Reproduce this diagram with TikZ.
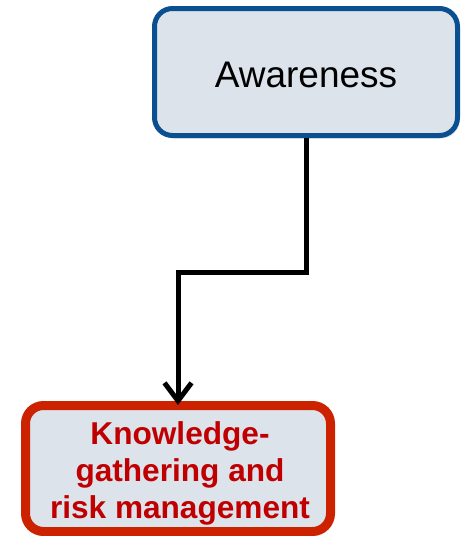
\documentclass[tikz,border=0pt]{standalone}
\usepackage{fontspec}
\setmainfont{Liberation Sans}
\usetikzlibrary{arrows.meta,shadows}
\definecolor{boxfill}{HTML}{DCE3EB}
\definecolor{blueline}{HTML}{0A5091}
\definecolor{redline}{HTML}{CC2200}
\definecolor{redtext}{HTML}{C00000}
\begin{document}
\begin{tikzpicture}[x=1pt,y=-1pt,
  box/.style={draw, fill=boxfill, rounded corners=18pt, inner sep=0pt,
    drop shadow={opacity=0.22, shadow xshift=2pt, shadow yshift=-3pt}},
  topbox/.style={box, draw=blueline, line width=5pt, minimum width=303pt, minimum height=127pt},
  botbox/.style={box, draw=redline, line width=9pt, minimum width=305pt, minimum height=126pt},
  toptext/.style={font=\fontsize{37}{44}\selectfont, text=black, inner sep=0pt},
  bottext/.style={font=\fontsize{31.6}{37}\selectfont\bfseries, text=redtext, align=center, inner sep=0pt},
  conn/.style={line width=5pt, shorten >=-4pt, -{Straight Barb[length=18pt,width=27pt]}}
]
\fill[white] (0,0) rectangle (461,536);
\useasboundingbox (0,0) rectangle (461,536);
\node[topbox] (aware) at (306,72) {};
\node[botbox] (know) at (178,468.5) {};
\node[toptext] (awaretxt) at (306,75) {Awareness};
\node[bottext] (knowtxt) at (180,473) {Knowledge-\\gathering and\\risk management};
\coordinate (bend) at (178,272);
\draw[conn] (aware.south) |- (bend) -- (know.north);
\end{tikzpicture}
\end{document}
